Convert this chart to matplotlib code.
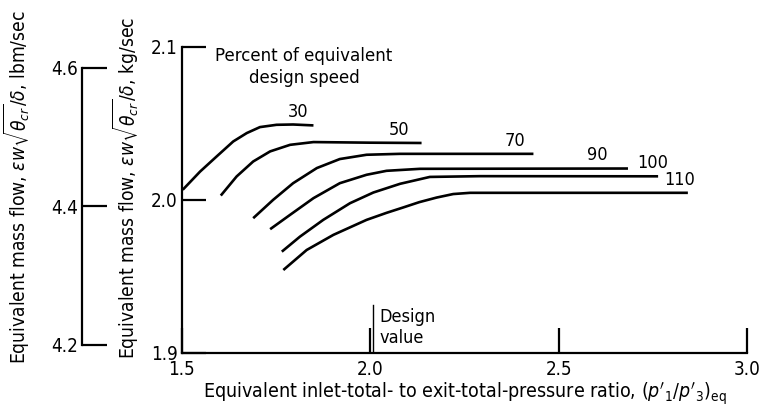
import matplotlib
matplotlib.use("Agg")
import matplotlib.pyplot as plt
import matplotlib.transforms as mtransforms

plt.rcParams['font.family'] = ['DejaVu Sans']
plt.rcParams['font.stretch'] = 'condensed'
plt.rcParams['mathtext.fontset'] = 'dejavusans'

# ---- data ----
speeds = [30, 50, 70, 90, 100, 110]
pr_30 = [1.502, 1.548, 1.592, 1.636, 1.672, 1.707, 1.751, 1.795, 1.849]
wf_30 = [2.0066, 2.0185, 2.0284, 2.0382, 2.0437, 2.0476, 2.0491, 2.0493, 2.0487]
pr_50 = [1.603, 1.645, 1.689, 1.734, 1.787, 1.849, 2.000, 2.136]
wf_50 = [2.0028, 2.0153, 2.0251, 2.0317, 2.0360, 2.0378, 2.0374, 2.0372]
pr_70 = [1.689, 1.742, 1.795, 1.858, 1.919, 1.990, 2.078, 2.433]
wf_70 = [1.9880, 2.0000, 2.0109, 2.0208, 2.0267, 2.0295, 2.0301, 2.0301]
pr_90 = [1.734, 1.787, 1.849, 1.919, 1.990, 2.043, 2.132, 2.684]
wf_90 = [1.9808, 1.9902, 2.0011, 2.0109, 2.0164, 2.0190, 2.0203, 2.0205]
pr_100 = [1.765, 1.813, 1.875, 1.946, 2.008, 2.079, 2.158, 2.291, 2.764]
wf_100 = [1.9661, 1.9759, 1.9869, 1.9978, 2.0048, 2.0105, 2.0150, 2.0155, 2.0154]
pr_110 = [1.769, 1.831, 1.902, 1.990, 2.043, 2.087, 2.130, 2.176, 2.220, 2.265, 2.843]
wf_110 = [1.9541, 1.9672, 1.9771, 1.9869, 1.9915, 1.9950, 1.9985, 2.0015, 2.0038, 2.0046, 2.0046]

x_ticks = [1.5, 2.0, 2.5, 3.0]
x_ticklabels = ['1.5', '2.0', '2.5', '3.0']
y_ticks = [1.9, 2.0, 2.1]
y_ticklabels = ['1.9', '2.0', '2.1']
lbm_ticks = [4.2, 4.4, 4.6]
lbm_ticklabels = ['4.2', '4.4', '4.6']
design_ratio = 2.0
KG_PER_LBM = 0.45359

curves = [(pr_30, wf_30), (pr_50, wf_50), (pr_70, wf_70),
          (pr_90, wf_90), (pr_100, wf_100), (pr_110, wf_110)]
label_dx = [-15, -22, -18, -31, -5, -8]   # pixel offsets of speed labels

fig = plt.figure(figsize=(7.62, 4.20), dpi=100)
rect = [182 / 762, 1 - 352.7 / 420, 565 / 762, 305.7 / 420]
ax = fig.add_axes(rect)
ax.set_xlim(1.5, 3.0)
ax.set_ylim(1.9, 2.1)
for s in ['top', 'right']:
    ax.spines[s].set_visible(False)
for s in ['left', 'bottom']:
    ax.spines[s].set_linewidth(1.6)

TICK = 13.5
ax.set_xticks(x_ticks)
ax.set_xticklabels(x_ticklabels, fontsize=TICK)
ax.set_yticks(y_ticks)
ax.set_yticklabels(y_ticklabels, fontsize=TICK)
ax.tick_params(axis='both', direction='in', width=1.6)
ax.tick_params(axis='y', length=17, pad=3)
ax.tick_params(axis='x', length=18, pad=5)

for (px, py) in curves:
    ax.plot(px, py, color='black', lw=1.9, solid_capstyle='butt',
            solid_joinstyle='round')

for sp, (px, py), dx in zip(speeds, curves, label_dx):
    ax.annotate(str(sp), (px[-1], py[-1]), xytext=(dx * 0.72, 3),
                textcoords='offset points', ha='center', va='bottom',
                fontsize=13)

# design value marker
trans = mtransforms.offset_copy(ax.get_xaxis_transform(), fig=fig,
                                x=2.2, units='points')
ax.plot([design_ratio, design_ratio], [0, 0.155], color='black', lw=1.0,
        transform=trans)
ax.text(0.350, 0.082, 'Design\nvalue', transform=ax.transAxes,
        ha='left', va='center', fontsize=13, linespacing=1.25)

ax.text(0.216, 0.935, 'Percent of equivalent\ndesign speed',
        transform=ax.transAxes, ha='center', va='center', fontsize=13.3,
        linespacing=1.3)

ax.set_xlabel("Equivalent inlet-total- to exit-total-pressure ratio, "
              r"$(p'_1/p'_3)_{\mathrm{eq}}$", fontsize=14, labelpad=1)
ax.set_ylabel(r"Equivalent mass flow, $\varepsilon w\sqrt{\theta_{cr}}/\delta$, kg/sec",
              fontsize=13.8)
ax.yaxis.set_label_coords(-0.0726, 0.54)

# secondary (lbm/sec) axis
ax2 = fig.add_axes(rect)
ax2.patch.set_visible(False)
ax2.set_ylim(1.9 / KG_PER_LBM, 2.1 / KG_PER_LBM)
ax2.xaxis.set_visible(False)
for s in ['top', 'right', 'bottom']:
    ax2.spines[s].set_visible(False)
ax2.spines['left'].set_position(('axes', -0.177))
ax2.spines['left'].set_bounds(lbm_ticks[0], lbm_ticks[-1])
ax2.spines['left'].set_linewidth(1.6)
ax2.set_yticks(lbm_ticks)
ax2.set_yticklabels(lbm_ticklabels, fontsize=TICK)
ax2.tick_params(axis='y', direction='in', length=18, width=1.6, pad=3)
ax2.set_ylabel(r"Equivalent mass flow, $\varepsilon w\sqrt{\theta_{cr}}/\delta$, lbm/sec",
               fontsize=13.8)
ax2.yaxis.set_label_coords(-0.2655, 0.54)

fig.savefig('out.png', dpi=100)
